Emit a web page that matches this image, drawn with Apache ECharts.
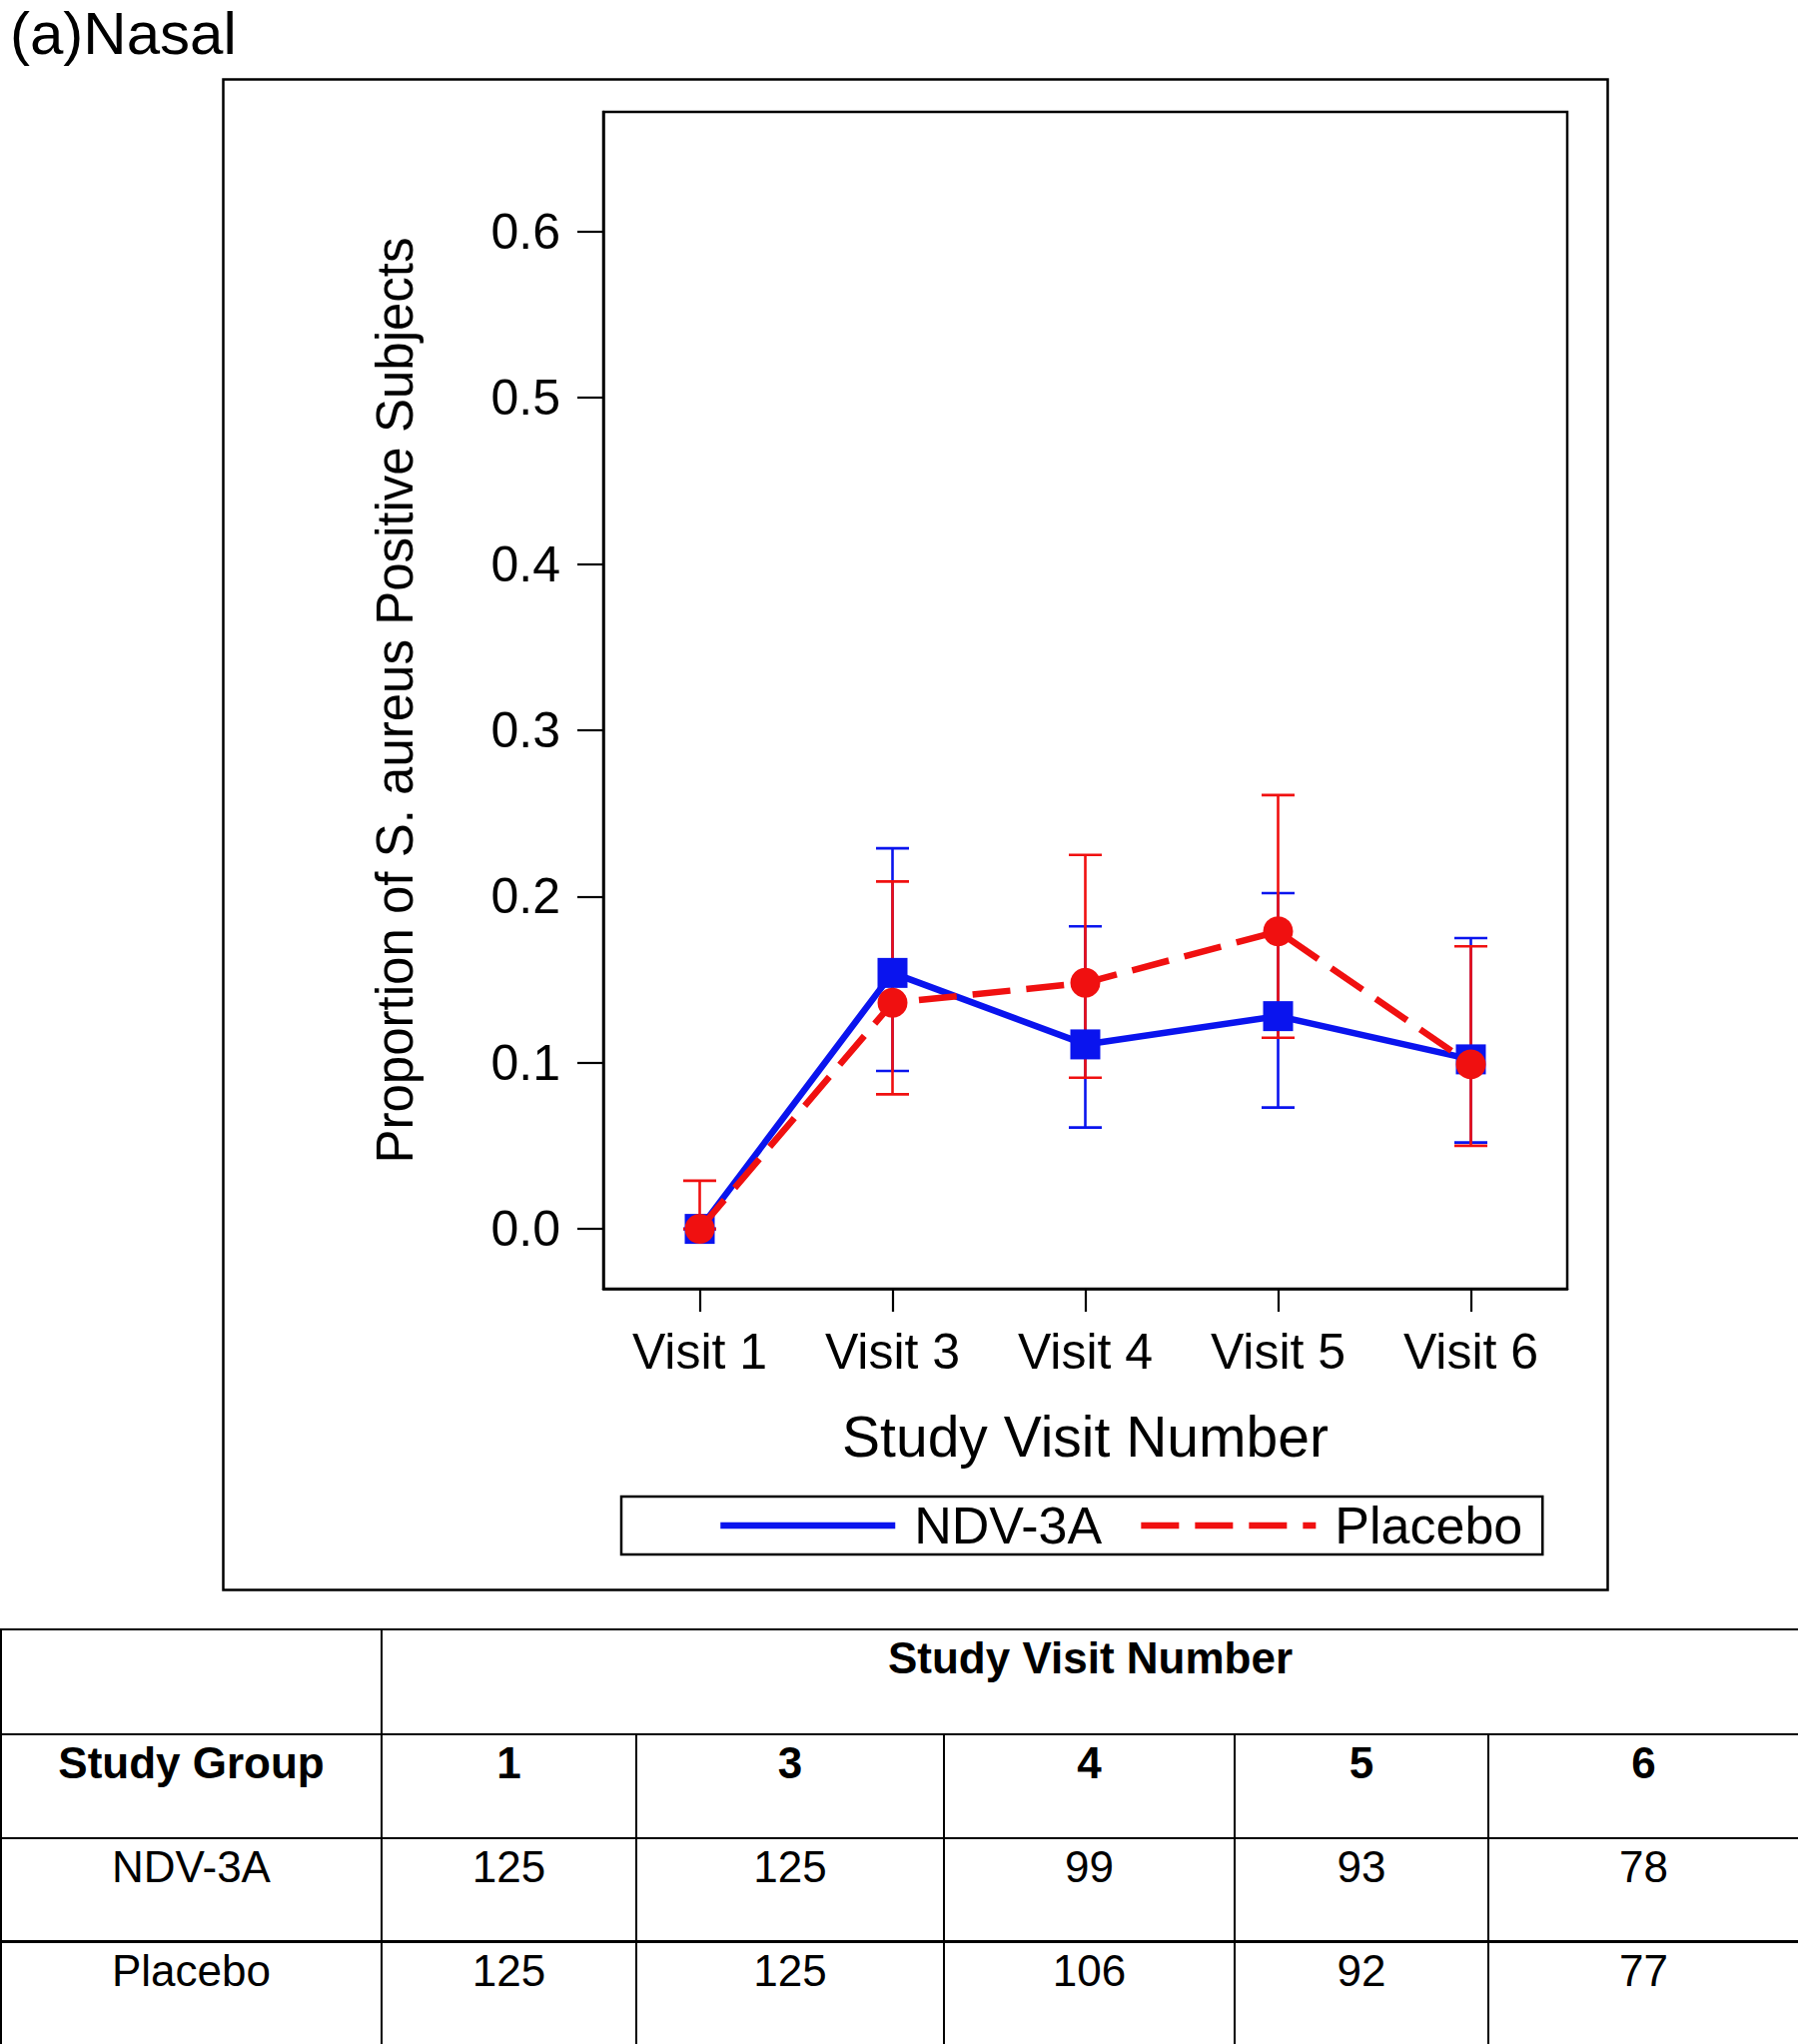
<!DOCTYPE html>
<html>
<head>
<meta charset="utf-8">
<script src="https://cdn.jsdelivr.net/npm/echarts@6/dist/echarts.min.js"></script>
<style>
  html, body { margin: 0; padding: 0; background: #fff; }
  #wrap { position: relative; width: 1800px; height: 2046px; overflow: hidden; }
  #chart { position: absolute; left: 0; top: 0; width: 1800px; height: 2046px; }
  #tbl { position: absolute; left: 0; top: 1630px; width: 1800px; border-collapse: collapse; table-layout: fixed;
         font-family: "Liberation Sans", Arial, sans-serif; font-size: 44px; color: #000; }
  #tbl td { border: 2px solid #000; text-align: center; vertical-align: top; padding: 3px 0 0 0; line-height: 50px; }
  #tbl tr.r3 td { border-bottom: 3px solid #000; }
  #tbl .b { font-weight: bold; }
</style>
</head>
<body>
<div id="wrap">
  <div id="chart"></div>
  <table id="tbl"></table>
</div>
<script>
// ---------- data ----------
const categories = ['Visit 1', 'Visit 3', 'Visit 4', 'Visit 5', 'Visit 6'];
const yTicks = [0, 0.1, 0.2, 0.3, 0.4, 0.5, 0.6];

const ndvMean  = [0,     0.154, 0.111, 0.128, 0.102];
const ndvLower = [0,     0.095, 0.061, 0.073, 0.052];
const ndvUpper = [0,     0.229, 0.182, 0.202, 0.175];

const plaMean  = [0,     0.136, 0.148, 0.179, 0.099];
const plaLower = [0,     0.081, 0.091, 0.115, 0.050];
const plaUpper = [0.029, 0.209, 0.225, 0.261, 0.170];

const tableVisits = ['1', '3', '4', '5', '6'];
const groupNames = ['NDV-3A', 'Placebo'];
const ndvN = [125, 125, 99, 93, 78];
const plaN = [125, 125, 106, 92, 77];

// ---------- styling ----------
const FONT = '"Liberation Sans", Arial, sans-serif';
const BLUE = '#0a14ee';
const RED = '#f01010';
const DASH = [38, 16];

function errData(lo, hi) {
  return lo.map((v, i) => [i, v, hi[i]]);
}
function errRender(params, api) {
  const x = api.value(0);
  const pLo = api.coord([x, api.value(1)]);
  const pHi = api.coord([x, api.value(2)]);
  const cap = 33;
  const style = { stroke: api.visual('color'), lineWidth: 2.6 };
  return {
    type: 'group',
    children: [
      { type: 'line', shape: { x1: pLo[0], y1: pLo[1], x2: pHi[0], y2: pHi[1] }, style: style },
      { type: 'line', shape: { x1: pLo[0] - cap / 2, y1: pLo[1], x2: pLo[0] + cap / 2, y2: pLo[1] }, style: style },
      { type: 'line', shape: { x1: pHi[0] - cap / 2, y1: pHi[1], x2: pHi[0] + cap / 2, y2: pHi[1] }, style: style }
    ]
  };
}

const chart = echarts.init(document.getElementById('chart'), null, { renderer: 'svg', width: 1800, height: 2046 });
chart.setOption({
  animation: false,
  backgroundColor: '#fff',
  title: {
    text: '(a)Nasal', left: 10, top: 3, padding: 0,
    textStyle: { fontFamily: FONT, fontSize: 60, fontWeight: 'normal', color: '#000' }
  },
  graphic: [{
    type: 'rect', left: 221, top: 77, silent: true,
    shape: { x: 0, y: 0, width: 1386, height: 1512 },
    style: { fill: 'none', stroke: '#000', lineWidth: 2.5 }
  }],
  grid: {
    left: 604, top: 112, right: 231, bottom: 756,
    show: true, borderColor: '#000', borderWidth: 2.5, backgroundColor: 'transparent'
  },
  legend: {
    data: [
      { name: groupNames[0], lineStyle: { width: 6.5, color: BLUE, type: 'solid' } },
      { name: groupNames[1], lineStyle: { width: 6.5, color: RED, type: DASH } }
    ],
    left: 622, top: 1498,
    padding: [3, 20, 3, 96],
    itemWidth: 175, itemHeight: 20, itemGap: 36,
    borderColor: '#000', borderWidth: 2.5,
    itemStyle: { opacity: 0 },
    selectedMode: false,
    textStyle: { fontFamily: FONT, fontSize: 52, color: '#000', padding: [0, 0, 0, 14] }
  },
  xAxis: {
    type: 'category', data: categories, boundaryGap: true,
    name: 'Study Visit Number', nameLocation: 'middle', nameGap: 119,
    nameTextStyle: { fontFamily: FONT, fontSize: 57, color: '#000' },
    axisLine: { show: true, onZero: false, lineStyle: { color: '#000', width: 2.5 } },
    axisTick: { show: true, alignWithLabel: true, length: 23, lineStyle: { color: '#000', width: 2.2 } },
    axisLabel: { margin: 38, fontFamily: FONT, fontSize: 50, color: '#000' },
    splitLine: { show: false }
  },
  yAxis: {
    type: 'value', min: -0.036, max: 0.672,
    name: 'Proportion of S. aureus Positive Subjects', nameLocation: 'middle', nameGap: 183,
    nameTextStyle: { fontFamily: FONT, fontSize: 51, color: '#000' },
    axisLine: { show: true, onZero: false, lineStyle: { color: '#000', width: 2.5 } },
    axisTick: { show: true, length: 26, customValues: yTicks, lineStyle: { color: '#000', width: 2.2 } },
    axisLabel: { margin: 43, fontFamily: FONT, fontSize: 50, color: '#000', customValues: yTicks,
                 formatter: v => v.toFixed(1) },
    splitLine: { show: false }
  },
  series: [
    {
      name: 'NDV-3A CI', type: 'custom', renderItem: errRender, z: 1,
      itemStyle: { color: BLUE }, encode: { x: 0, y: [1, 2] },
      data: errData(ndvLower, ndvUpper)
    },
    {
      name: 'Placebo CI', type: 'custom', renderItem: errRender, z: 2,
      itemStyle: { color: RED }, encode: { x: 0, y: [1, 2] },
      data: errData(plaLower, plaUpper)
    },
    {
      name: 'NDV-3A', type: 'line', z: 3, data: ndvMean,
      symbol: 'rect', symbolSize: 30,
      itemStyle: { color: BLUE }, lineStyle: { color: BLUE, width: 6.5 }
    },
    {
      name: 'Placebo', type: 'line', z: 4, data: plaMean,
      symbol: 'circle', symbolSize: 30,
      itemStyle: { color: RED }, lineStyle: { color: RED, width: 6.5, type: DASH }
    }
  ]
});

// ---------- table ----------
const colW = [381, 255, 308, 291, 254, 311];
const rowH = [105, 104, 103, 104];
const tbl = document.getElementById('tbl');
let html = '<colgroup>' + colW.map(w => '<col style="width:' + w + 'px">').join('') + '</colgroup>';
html += '<tr style="height:' + rowH[0] + 'px"><td></td><td class="b" colspan="5">Study Visit Number</td></tr>';
html += '<tr style="height:' + rowH[1] + 'px"><td class="b">Study Group</td>' +
        tableVisits.map(v => '<td class="b">' + v + '</td>').join('') + '</tr>';
html += '<tr class="r3" style="height:' + rowH[2] + 'px"><td>' + groupNames[0] + '</td>' +
        ndvN.map(v => '<td>' + v + '</td>').join('') + '</tr>';
html += '<tr style="height:' + rowH[3] + 'px"><td>' + groupNames[1] + '</td>' +
        plaN.map(v => '<td>' + v + '</td>').join('') + '</tr>';
tbl.innerHTML = html;
</script>
</body>
</html>
